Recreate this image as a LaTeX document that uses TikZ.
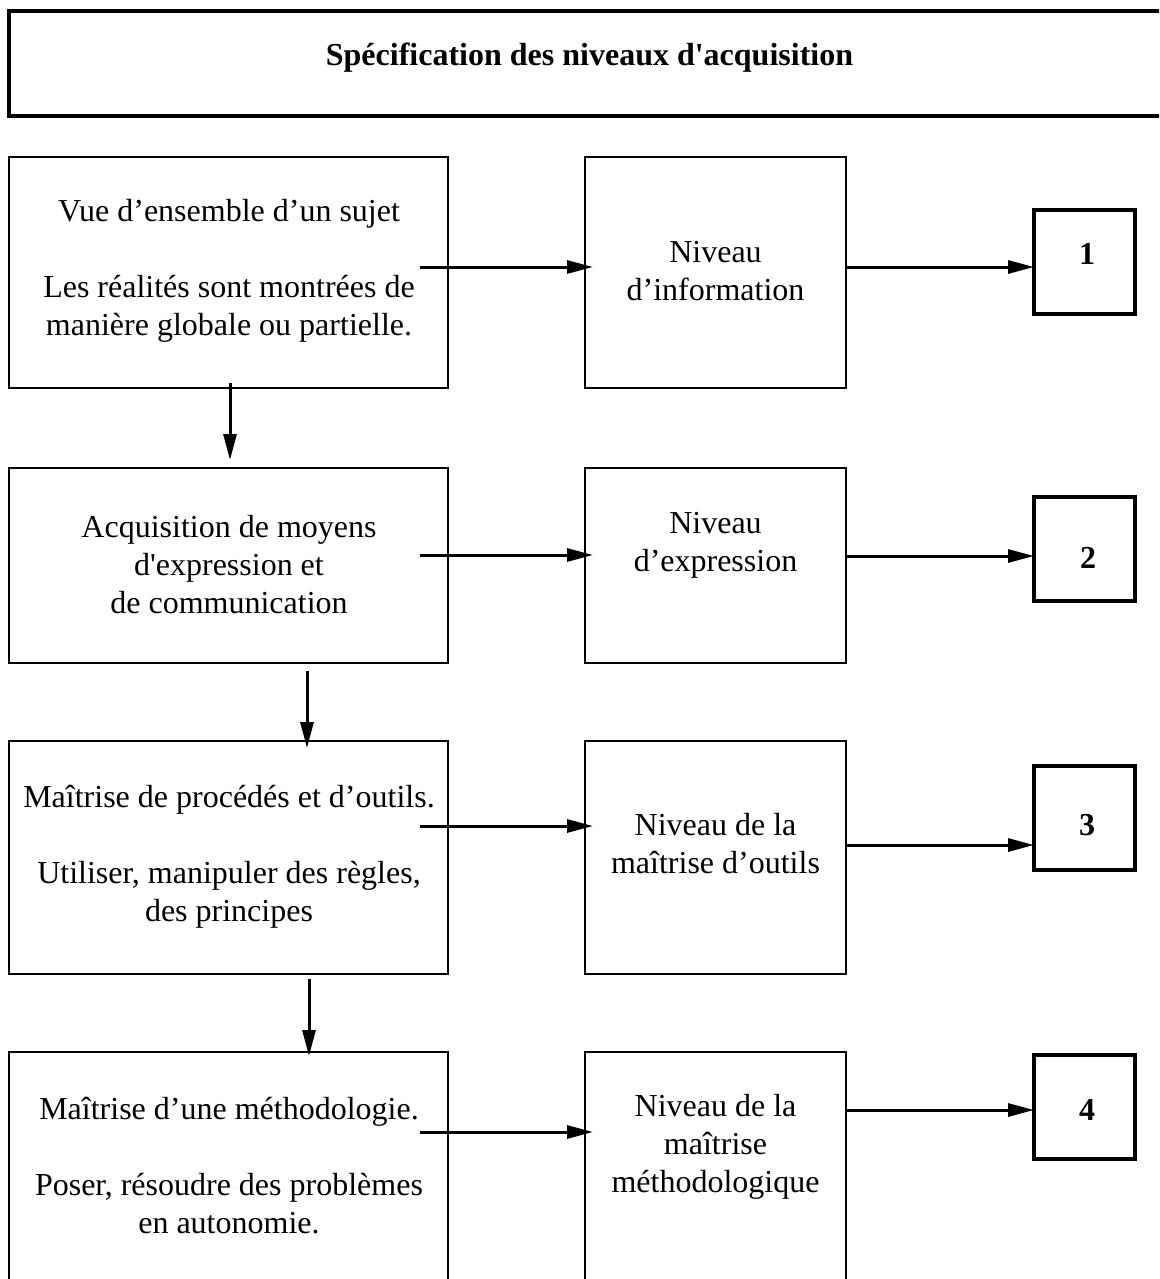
\documentclass[tikz,border=0pt]{standalone}
\usepackage{fontspec}
\setmainfont{Liberation Serif}[Ligatures=TeXOff]
\usetikzlibrary{arrows.meta}
\begin{document}
\begin{tikzpicture}[x=1pt,y=-1pt,
 box/.style={draw, line width=2pt, anchor=north west, inner sep=0pt, outer sep=0pt},
 titlebox/.style={draw, line width=3.2pt, anchor=north west, inner sep=0pt, outer sep=0pt},
 numbox/.style={draw, line width=3.5pt, anchor=north west, inner sep=0pt, outer sep=0pt, minimum width=101pt, minimum height=104pt},
 txt/.style={align=center, inner sep=0pt, font=\fontsize{32}{38}\selectfont},
 numtxt/.style={inner sep=0pt, font=\fontsize{32}{38}\selectfont\bfseries},
 arr/.style={line width=3pt, -{Triangle[length=26pt,width=13pt]}}]
\useasboundingbox (0,0) rectangle (1159,1279);
\clip (0,0) rectangle (1159,1279);
\fill[white] (0,0) rectangle (1159,1279);

% title
\node[titlebox, minimum width=1161pt, minimum height=105pt] (title) at (9,11) {};
\node[txt, font=\fontsize{32}{38}\selectfont\bfseries] (titletext) at (589.5,58) {Spécification des niveaux d'acquisition};

% left boxes
\node[box, minimum width=439pt, minimum height=231pt] (L1) at (9,157) {};
\node[box, minimum width=439pt, minimum height=195pt] (L2) at (9,468) {};
\node[box, minimum width=439pt, minimum height=233pt] (L3) at (9,741) {};
\node[box, minimum width=439pt, minimum height=260pt] (L4) at (9,1052) {};
% middle boxes
\node[box, minimum width=261pt, minimum height=231pt] (M1) at (585,157) {};
\node[box, minimum width=261pt, minimum height=195pt] (M2) at (585,468) {};
\node[box, minimum width=261pt, minimum height=233pt] (M3) at (585,741) {};
\node[box, minimum width=261pt, minimum height=260pt] (M4) at (585,1052) {};
% number boxes
\node[numbox] (N1) at (1034,210) {};
\node[numbox] (N2) at (1034,497) {};
\node[numbox] (N3) at (1034,766) {};
\node[numbox] (N4) at (1034,1055) {};

% texts
\node[txt] (T1) at (229,271) {Vue d’ensemble d’un sujet\\[38pt]Les réalités sont montrées de\\manière globale ou partielle.};
\node[txt] (S1) at (715.5,271.5) {Niveau\\d’information};
\node[txt] (T2) at (229,564.5) {Acquisition de moyens\\d'expression et\\de communication};
\node[txt] (S2) at (715.5,545) {Niveau\\d’expression};
\node[txt] (T3) at (229,856.5) {Maîtrise de procédés et d’outils.\\[38pt]Utiliser, manipuler des règles,\\des principes};
\node[txt] (S3) at (715.5,844) {Niveau de la\\maîtrise d’outils};
\node[txt] (T4) at (229,1166) {Maîtrise d’une méthodologie.\\[38pt]Poser, résoudre des problèmes\\en autonomie.};
\node[txt] (S4) at (715.5,1146.5) {Niveau de la\\maîtrise\\méthodologique};

\node[numtxt] (n1) at (1087,254) {1};
\node[numtxt] (n2) at (1088,558) {2};
\node[numtxt] (n3) at (1087,825) {3};
\node[numtxt] (n4) at (1087,1110) {4};

% arrow rows / columns
\coordinate (h1) at (0,267);
\coordinate (h2) at (0,555);
\coordinate (h3) at (0,826);
\coordinate (h4) at (0,1132);
\coordinate (k1) at (0,267);
\coordinate (k2) at (0,556);
\coordinate (k3) at (0,845);
\coordinate (k4) at (0,1110);
\coordinate (v1) at (230,0);
\coordinate (v2) at (307,0);
\coordinate (v3) at (309,0);

\draw[arr, shorten <=-28pt, shorten >=-8pt] (L1.east |- h1) -- (M1.west |- h1);
\draw[arr, shorten <=-28pt, shorten >=-8pt] (L2.east |- h2) -- (M2.west |- h2);
\draw[arr, shorten <=-28pt, shorten >=-8pt] (L3.east |- h3) -- (M3.west |- h3);
\draw[arr, shorten <=-28pt, shorten >=-8pt] (L4.east |- h4) -- (M4.west |- h4);

\draw[arr] (M1.east |- k1) -- (N1.west |- k1);
\draw[arr] (M2.east |- k2) -- (N2.west |- k2);
\draw[arr] (M3.east |- k3) -- (N3.west |- k3);
\draw[arr] (M4.east |- k4) -- (N4.west |- k4);

\draw[arr, shorten <=-5pt, shorten >=8pt] (L1.south -| v1) -- (L2.north -| v1);
\draw[arr, shorten <=8pt, shorten >=-7pt] (L2.south -| v2) -- (L3.north -| v2);
\draw[arr, shorten <=5pt, shorten >=-4pt] (L3.south -| v3) -- (L4.north -| v3);
\end{tikzpicture}
\end{document}
